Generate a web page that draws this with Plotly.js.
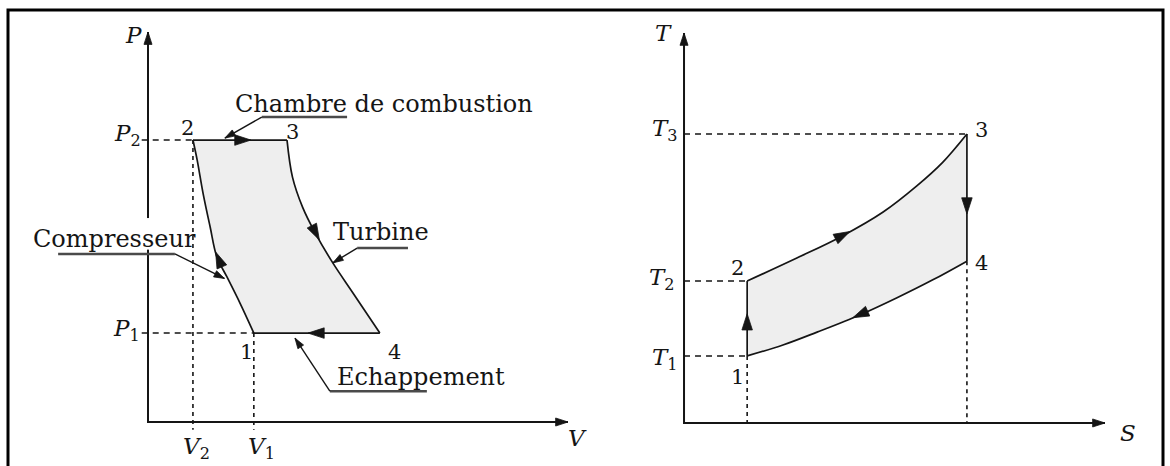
<!DOCTYPE html>
<html>
<head>
<meta charset="utf-8">
<script src="https://cdn.plot.ly/plotly-3.0.1.min.js"></script>
<style>
  html, body { margin: 0; padding: 0; background: #ffffff; }
  #chart { width: 1170px; height: 466px; }
</style>
</head>
<body>
<div id="chart"></div>
<script>
// Cycle de Brayton (turbine à gaz) : diagramme P-V à gauche, diagramme T-S à droite.

// Numéros des états
const stateNames = ['1', '2', '3', '4'];

// ---- Diagramme P-V : états 1, 2, 3, 4 ----
const V_state = [2.52, 1.07, 3.31, 5.52];
const P_state = [2.28, 7.23, 7.23, 2.28];

// Compression 1 -> 2
const V_comp = [2.52, 2.19, 1.88, 1.64, 1.48, 1.31, 1.17, 1.07];
const P_comp = [2.28, 3.05, 3.72, 4.23, 5.00, 5.87, 6.72, 7.23];

// Détente dans la turbine 3 -> 4
const V_turb = [3.31, 3.44, 3.68, 3.98, 4.40, 4.88, 5.52];
const P_turb = [7.23, 6.28, 5.51, 4.85, 4.08, 3.31, 2.28];

// ---- Diagramme T-S : états 1, 2, 3, 4 ----
const S_state = [1.50, 1.50, 6.72, 6.72];
const T_state = [1.72, 3.64, 7.41, 4.15];

// Apport de chaleur 2 -> 3
const S_heat = [1.50, 2.68, 3.75, 4.73, 5.53, 6.15, 6.72];
const T_heat = [3.64, 4.23, 4.79, 5.41, 6.08, 6.69, 7.41];

// Rejet de chaleur 4 -> 1
const S_cool = [6.72, 5.91, 5.06, 4.18, 3.16, 2.35, 1.50];
const T_cool = [4.15, 3.67, 3.21, 2.77, 2.33, 2.00, 1.72];

// Longueur des axes
const axisLen = 10;

// Flèches de sens de parcours : [queue, pointe]
const pvArrows = [
  [[2.05, 7.23], [2.45, 7.23]],   // 2 -> 3
  [[1.75, 4.00], [1.61, 4.36]],   // 1 -> 2
  [[3.87, 5.10], [4.08, 4.67]],   // 3 -> 4
  [[4.25, 2.28], [3.81, 2.28]]    // 4 -> 1
];
const tsArrows = [
  [[1.50, 2.35], [1.50, 2.80]],   // 1 -> 2
  [[3.30, 4.55], [3.94, 4.91]],   // 2 -> 3
  [[6.72, 5.85], [6.72, 5.36]],   // 3 -> 4
  [[4.60, 2.98], [4.01, 2.70]]    // 4 -> 1
];

// Légendes des organes : soulignement [V côté flèche, V autre bout, P], pointe de la flèche
const partNames = ['Chambre de combustion', 'Compresseur', 'Turbine', 'Echappement'];
const partUnderline = [[2.71, 4.74, 7.82], [0.64, -2.14, 4.31], [4.98, 6.19, 4.46], [4.33, 6.64, 0.79]];
const partTip = [[1.83, 7.28], [1.82, 3.68], [4.40, 4.08], [3.50, 2.15]];

const FONT = 'DejaVu Serif, Liberation Serif, serif';
const INK = '#151515';
const FILL = '#eeeeee';

function withGaps(list) {
  const out = [];
  list.forEach((arr, i) => { if (i) out.push(null); out.push(...arr); });
  return out;
}

const traces = [];

// Surfaces grisées des cycles
traces.push({
  x: [...V_comp, ...V_turb, V_comp[0]],
  y: [...P_comp, ...P_turb, P_comp[0]],
  xaxis: 'x', yaxis: 'y', mode: 'lines', fill: 'toself', fillcolor: FILL,
  line: { width: 0, color: FILL }, hoverinfo: 'skip'
});
traces.push({
  x: [...S_heat, ...S_cool],
  y: [...T_heat, ...T_cool],
  xaxis: 'x2', yaxis: 'y2', mode: 'lines', fill: 'toself', fillcolor: FILL,
  line: { width: 0, color: FILL }, hoverinfo: 'skip'
});

// Lignes de rappel en pointillés
traces.push({
  x: [-0.15, V_state[1], null, -0.15, V_state[0]],
  y: [P_state[1], P_state[1], null, P_state[0], P_state[0]],
  xaxis: 'x', yaxis: 'y', mode: 'lines',
  line: { color: INK, width: 1.5, dash: '6px,5px' }, hoverinfo: 'skip'
});
traces.push({
  x: [V_state[1], V_state[1], null, V_state[0], V_state[0]],
  y: [P_state[1], -0.2, null, P_state[0], -0.2],
  xaxis: 'x', yaxis: 'y', mode: 'lines',
  line: { color: INK, width: 1.6, dash: '4px,4px' }, hoverinfo: 'skip'
});
traces.push({
  x: [0, S_state[2], null, 0, S_state[1], null, 0, S_state[0]],
  y: [T_state[2], T_state[2], null, T_state[1], T_state[1], null, T_state[0], T_state[0]],
  xaxis: 'x2', yaxis: 'y2', mode: 'lines',
  line: { color: INK, width: 1.5, dash: '6px,5px' }, hoverinfo: 'skip'
});
traces.push({
  x: [S_state[0], S_state[0], null, S_state[3], S_state[3]],
  y: [T_state[0], 0, null, T_state[3], 0],
  xaxis: 'x2', yaxis: 'y2', mode: 'lines',
  line: { color: INK, width: 1.6, dash: '4px,4px' }, hoverinfo: 'skip'
});

// Contours des cycles
traces.push({
  x: withGaps([V_comp, [V_state[1], V_state[2]], V_turb, [V_state[3], V_state[0]]]),
  y: withGaps([P_comp, [P_state[1], P_state[2]], P_turb, [P_state[3], P_state[0]]]),
  xaxis: 'x', yaxis: 'y', mode: 'lines', connectgaps: false,
  line: { color: INK, width: 1.7, shape: 'spline', smoothing: 1 }, hoverinfo: 'skip'
});
traces.push({
  x: withGaps([[S_state[0], S_state[1]], S_heat, [S_state[2], S_state[3]], S_cool]),
  y: withGaps([[T_state[0], T_state[1]], T_heat, [T_state[2], T_state[3]], T_cool]),
  xaxis: 'x2', yaxis: 'y2', mode: 'lines', connectgaps: false,
  line: { color: INK, width: 1.7, shape: 'spline', smoothing: 1 }, hoverinfo: 'skip'
});

// Axes
traces.push({
  x: [0, 0, axisLen], y: [axisLen, 0, 0], xaxis: 'x', yaxis: 'y', mode: 'lines',
  line: { color: INK, width: 2 }, hoverinfo: 'skip'
});
traces.push({
  x: [0, 0, axisLen], y: [axisLen, 0, 0], xaxis: 'x2', yaxis: 'y2', mode: 'lines',
  line: { color: INK, width: 2 }, hoverinfo: 'skip'
});

// Soulignements et traits de rappel des légendes
traces.push({
  x: withGaps(partUnderline.map(u => [u[0], u[1]])),
  y: withGaps(partUnderline.map(u => [u[2], u[2]])),
  xaxis: 'x', yaxis: 'y', mode: 'lines', connectgaps: false,
  line: { color: '#4a4a4a', width: 2.5 }, hoverinfo: 'skip'
});
traces.push({
  x: withGaps(partUnderline.map((u, i) => [u[0], partTip[i][0]])),
  y: withGaps(partUnderline.map((u, i) => [u[2], partTip[i][1]])),
  xaxis: 'x', yaxis: 'y', mode: 'lines', connectgaps: false,
  line: { color: INK, width: 1.4 }, hoverinfo: 'skip'
});

// Pointes de flèches : chaque pointe est orientée depuis le point qui la précède
function heads(pairs, sizes, xa, ya) {
  const x = [], y = [], s = [];
  pairs.forEach((p, i) => {
    x.push(p[0][0], p[1][0]);
    y.push(p[0][1], p[1][1]);
    s.push(0, sizes[i]);
  });
  return {
    x: x, y: y, xaxis: xa, yaxis: ya, mode: 'markers', hoverinfo: 'skip',
    marker: { symbol: 'arrow', angleref: 'previous', size: s, color: INK, opacity: 1,
              line: { width: 0.8, color: INK } }
  };
}

const pvAxisHeads = [[[0, axisLen - 0.5], [0, axisLen]], [[axisLen - 0.5, 0], [axisLen, 0]]];
const tsAxisHeads = [[[0, axisLen - 0.5], [0, axisLen]], [[axisLen - 0.5, 0], [axisLen, 0]]];
const leaderHeads = partUnderline.map((u, i) => [[u[0], u[2]], partTip[i]]);

traces.push(heads([...pvAxisHeads, ...pvArrows, ...leaderHeads],
  [13, 13, 17, 17, 17, 17, 11, 11, 11, 11], 'x', 'y'));
traces.push(heads([...tsAxisHeads, ...tsArrows],
  [13, 13, 17, 17, 17, 17], 'x2', 'y2'));

const annotations = [];

function label(ax, ay, x, y, text, size, opts) {
  annotations.push(Object.assign({
    xref: ax, yref: ay, x: x, y: y, text: text, showarrow: false,
    xanchor: 'center', yanchor: 'middle',
    font: { family: FONT, size: size, color: INK }
  }, opts || {}));
}

// Légendes des organes
label('x', 'y', 5.62, 8.15, partNames[0], 24);
label('x', 'y', -0.79, 4.69, partNames[1], 24);
label('x', 'y', 5.55, 4.87, partNames[2], 24);
label('x', 'y', 6.50, 1.15, partNames[3], 24);

// Noms des axes
label('x', 'y', 0, axisLen, '<i>P</i>', 23, { xshift: -15, yshift: -3 });
label('x', 'y', axisLen, 0, '<i>V</i>', 23, { xshift: 10, yshift: -16 });
label('x2', 'y2', 0, axisLen, '<i>T</i>', 23, { xshift: -21, yshift: 0 });
label('x2', 'y2', axisLen, 0, '<i>S</i>', 23, { xshift: 23, yshift: -10 });

// Repères des grandeurs
label('x', 'y', 0, P_state[1], '<i>P</i><sub>2</sub>', 23, { xanchor: 'right', xshift: -5, yshift: 5 });
label('x', 'y', 0, P_state[0], '<i>P</i><sub>1</sub>', 23, { xanchor: 'right', xshift: -6, yshift: 3 });
label('x', 'y', V_state[1], 0, '<i>V</i><sub>2</sub>', 23, { xshift: 4, yshift: -26 });
label('x', 'y', V_state[0], 0, '<i>V</i><sub>1</sub>', 23, { xshift: 8, yshift: -26 });
label('x2', 'y2', 0, T_state[2], '<i>T</i><sub>3</sub>', 23, { xanchor: 'right', xshift: -4, yshift: 4 });
label('x2', 'y2', 0, T_state[1], '<i>T</i><sub>2</sub>', 23, { xanchor: 'right', xshift: -7, yshift: 2 });
label('x2', 'y2', 0, T_state[0], '<i>T</i><sub>1</sub>', 23, { xanchor: 'right', xshift: -4, yshift: -3 });

// Numéros des états
const pvShift = [[-7, -19], [-5, 12], [5, 8], [15, -19]];
const tsShift = [[-10, -21], [-10, 13], [15, 4], [15, -2]];
stateNames.forEach((n, i) => {
  label('x', 'y', V_state[i], P_state[i], n, 21, { xshift: pvShift[i][0], yshift: pvShift[i][1] });
  label('x2', 'y2', S_state[i], T_state[i], n, 21, { xshift: tsShift[i][0], yshift: tsShift[i][1] });
});

const layout = {
  width: 1170, height: 466,
  margin: { l: 0, r: 0, t: 0, b: 0 },
  paper_bgcolor: '#ffffff', plot_bgcolor: '#ffffff',
  showlegend: false, hovermode: false,
  font: { family: FONT, color: INK },
  xaxis: { domain: [0, 0.5], range: [-3.524, 10.405], visible: false, fixedrange: true },
  yaxis: { domain: [0, 1], range: [-1.128, 10.821], visible: false, fixedrange: true },
  xaxis2: { domain: [0.5, 1], range: [-2.352, 11.544], anchor: 'y2', visible: false, fixedrange: true },
  yaxis2: { domain: [0, 1], range: [-1.103, 10.846], anchor: 'x2', visible: false, fixedrange: true },
  shapes: [
    // l'axe P passe sous le mot « Compresseur »
    { type: 'rect', xref: 'x', yref: 'y', x0: -0.2, x1: 0.2, y0: 4.42, y1: 5.23,
      fillcolor: '#ffffff', line: { width: 0 }, layer: 'above' },
    // cadre
    { type: 'rect', xref: 'paper', yref: 'paper', x0: 0.00684, x1: 0.99402, y0: -0.1, y1: 0.97854,
      line: { color: '#000000', width: 3 }, fillcolor: 'rgba(0,0,0,0)', layer: 'above' }
  ],
  annotations: annotations
};

Plotly.newPlot('chart', traces, layout, { staticPlot: true, displayModeBar: false });
</script>
</body>
</html>
